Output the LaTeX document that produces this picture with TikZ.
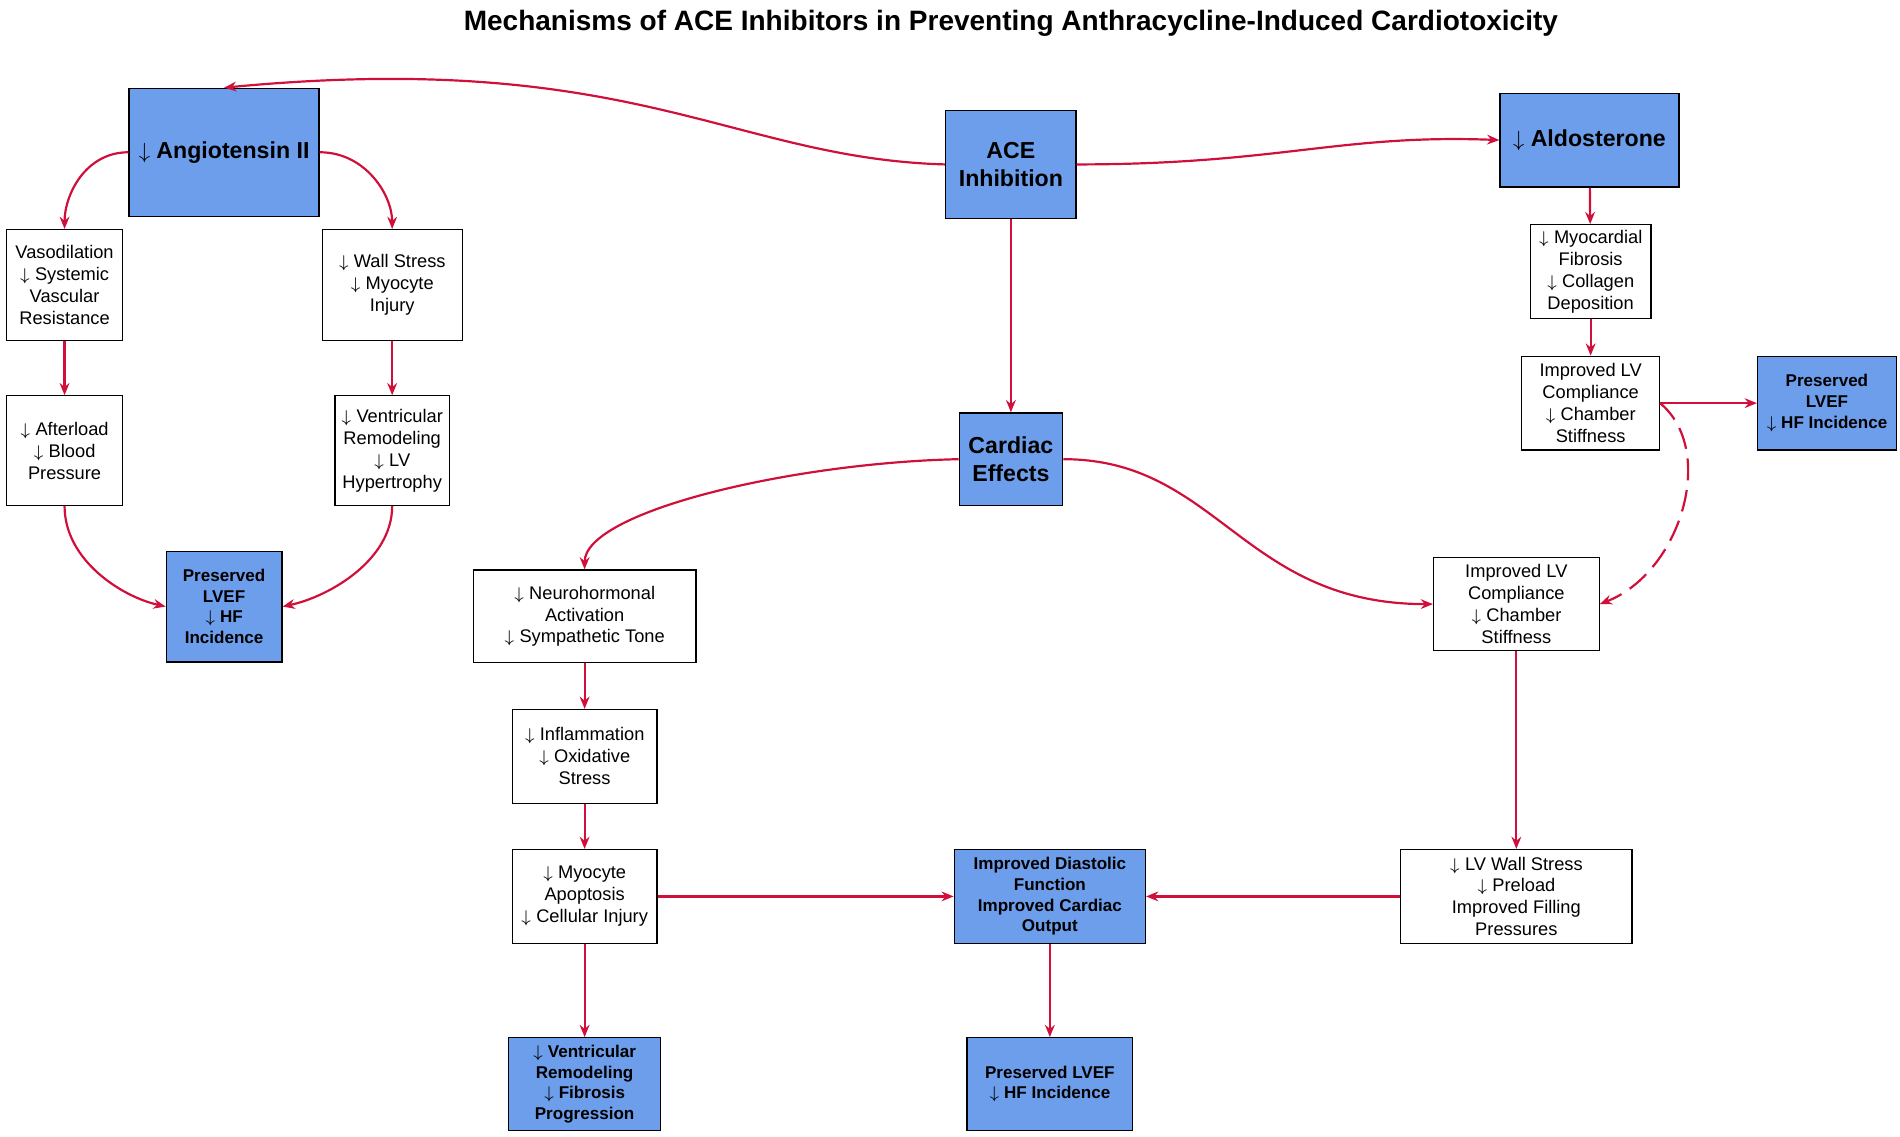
\documentclass[tikz,border=0pt]{standalone}
\usepackage{fontspec}
\setmainfont{Liberation Sans}
\usetikzlibrary{arrows.meta}
\definecolor{edge}{HTML}{D0103A}
\definecolor{hub}{HTML}{6D9EEB}
\begin{document}
\begin{tikzpicture}[x=0.5pt,y=-0.5pt,
  box/.style={draw=black, line width=0.5pt, fill=white, align=center, inner sep=0pt,
    font=\fontsize{7.5}{9}\selectfont},
  key/.style={box, fill=hub, font=\bfseries\fontsize{9.5}{11.5}\selectfont},
  result/.style={box, fill=hub, font=\bfseries\fontsize{7}{8.5}\selectfont},
  link/.style={draw=edge, line width=0.9pt, -{Stealth[length=5pt,width=4pt]}}]
\useasboundingbox (0,0) rectangle (1560,933);
\node[font=\bfseries\fontsize{11.5}{13}\selectfont] (title) at (830,19) {Mechanisms of ACE Inhibitors in Preventing Anthracycline-Induced Cardiotoxicity};

\node[key, minimum width=53.5pt, minimum height=44.5pt] (ace) at (830,135) {ACE\\Inhibition};
\node[key, minimum width=78pt, minimum height=52.5pt] (ang) at (184,125) {$\downarrow$ Angiotensin II};
\node[key, minimum width=73.5pt, minimum height=38.5pt] (ald) at (1305,115) {$\downarrow$ Aldosterone};
\node[key, minimum width=42.5pt, minimum height=38pt] (card) at (830,377) {Cardiac\\Effects};

\node[box, minimum width=47.5pt, minimum height=45.5pt] (vaso) at (53,234) {Vasodilation\\$\downarrow$ Systemic\\Vascular\\Resistance};
\node[box, minimum width=57.5pt, minimum height=45.5pt] (wall) at (322,234) {$\downarrow$ Wall Stress\\$\downarrow$ Myocyte\\Injury};
\node[box, minimum width=47.5pt, minimum height=45pt] (after) at (53,370) {$\downarrow$ Afterload\\$\downarrow$ Blood\\Pressure};
\node[box, minimum width=47pt, minimum height=45pt] (vent) at (322,370) {$\downarrow$ Ventricular\\Remodeling\\$\downarrow$ LV\\Hypertrophy};
\node[result, minimum width=47.5pt, minimum height=45.5pt] (presl) at (184,498) {Preserved\\LVEF\\$\downarrow$ HF\\Incidence};

\node[box, minimum width=49.5pt, minimum height=38.5pt] (fib) at (1306,223) {$\downarrow$ Myocardial\\Fibrosis\\$\downarrow$ Collagen\\Deposition};
\node[box, minimum width=56.5pt, minimum height=38.5pt] (compt) at (1306,331) {Improved LV\\Compliance\\$\downarrow$ Chamber\\Stiffness};
\node[result, minimum width=57pt, minimum height=38.5pt] (presr) at (1500,331) {Preserved\\LVEF\\$\downarrow$ HF Incidence};

\node[box, minimum width=91.5pt, minimum height=38pt] (neuro) at (480,506) {$\downarrow$ Neurohormonal\\Activation\\$\downarrow$ Sympathetic Tone};
\node[box, minimum width=68pt, minimum height=38pt] (compm) at (1245,496) {Improved LV\\Compliance\\$\downarrow$ Chamber\\Stiffness};
\node[box, minimum width=59.5pt, minimum height=38.5pt] (infl) at (480,621) {$\downarrow$ Inflammation\\$\downarrow$ Oxidative\\Stress};
\node[box, minimum width=59.5pt, minimum height=38.5pt] (apop) at (480,736) {$\downarrow$ Myocyte\\Apoptosis\\$\downarrow$ Cellular Injury};
\node[result, minimum width=78.5pt, minimum height=38.5pt] (dia) at (862,736) {Improved Diastolic\\Function\\Improved Cardiac\\Output};
\node[box, minimum width=95pt, minimum height=38.5pt] (lvw) at (1245,736) {$\downarrow$ LV Wall Stress\\$\downarrow$ Preload\\Improved Filling\\Pressures};
\node[result, minimum width=62.5pt, minimum height=38pt] (remod) at (480,890) {$\downarrow$ Ventricular\\Remodeling\\$\downarrow$ Fibrosis\\Progression};
\node[result, minimum width=68pt, minimum height=38pt] (presb) at (862,890) {Preserved LVEF\\$\downarrow$ HF Incidence};

\draw[link] (ace.west) .. controls (600,130) and (520,40) .. (ang.north);
\draw[link] (ace.east) .. controls (1050,135) and (1100,110) .. (ald.west);
\draw[link] (ace) -- (card);
\draw[link] (ang.west) .. controls (70,125) and (53,160) .. (vaso.north);
\draw[link] (ang.east) .. controls (300,125) and (322,160) .. (wall.north);
\draw[link] (vaso) -- (after);
\draw[link] (wall) -- (vent);
\draw[link] (after.south) .. controls (53,460) and (100,490) .. (presl.west);
\draw[link] (vent.south) .. controls (322,460) and (270,490) .. (presl.east);
\draw[link] (ald) -- (fib);
\draw[link] (fib) -- (compt);
\draw[link] (compt) -- (presr);
\draw[link, dash pattern=on 9pt off 4pt] (compt.east) .. controls (1410,370) and (1380,470) .. (compm.east);
\draw[link] (card.west) .. controls (650,380) and (480,420) .. (neuro.north);
\draw[link] (card.east) .. controls (1000,377) and (1020,496) .. (compm.west);
\draw[link] (neuro) -- (infl);
\draw[link] (infl) -- (apop);
\draw[link] (apop) -- (remod);
\draw[link] (apop) -- (dia);
\draw[link] (lvw) -- (dia);
\draw[link] (compm) -- (lvw);
\draw[link] (dia) -- (presb);
\end{tikzpicture}
\end{document}
